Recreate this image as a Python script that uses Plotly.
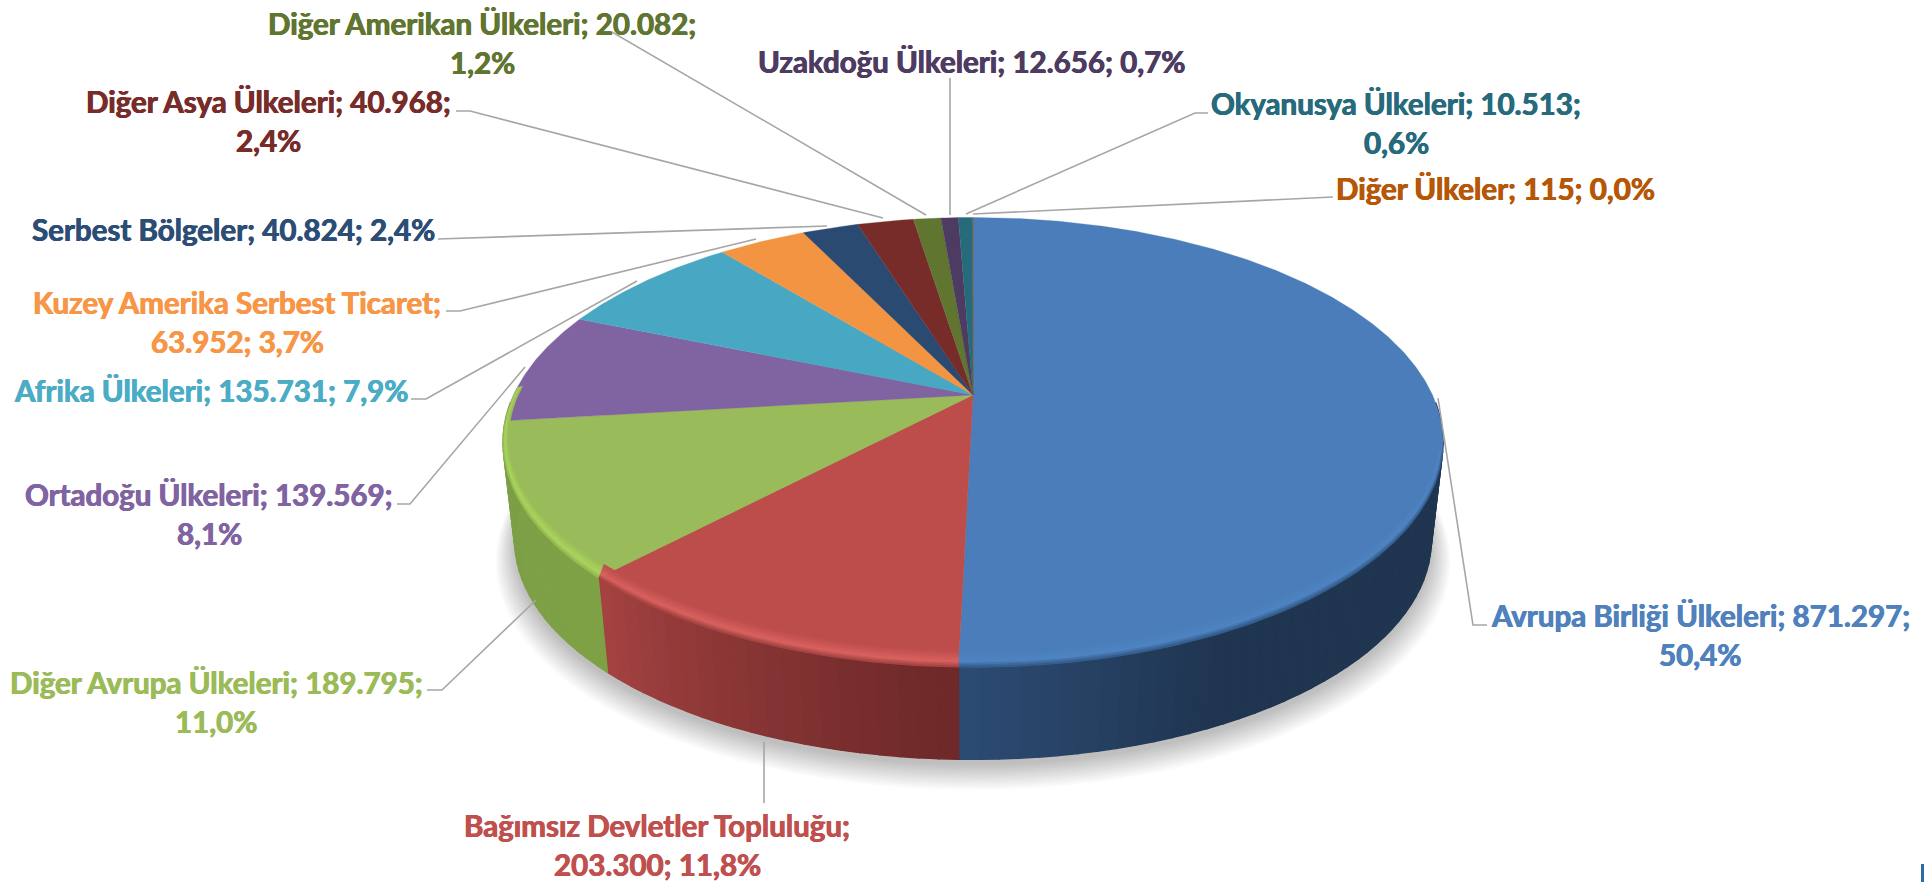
import numpy as np
import plotly.graph_objects as go

# ---- data ----
categories = ["Avrupa Birliği Ülkeleri", "Bağımsız Devletler Topluluğu", "Diğer Avrupa Ülkeleri",
              "Ortadoğu Ülkeleri", "Afrika Ülkeleri", "Kuzey Amerika Serbest Ticaret",
              "Serbest Bölgeler", "Diğer Asya Ülkeleri", "Diğer Amerikan Ülkeleri",
              "Uzakdoğu Ülkeleri", "Okyanusya Ülkeleri", "Diğer Ülkeler"]
values = [871297, 203300, 189795, 139569, 135731, 63952, 40824, 40968, 20082, 12656, 10513, 115]
colors = ["#4A7DB9", "#BC4D4B", "#9ABB59", "#8064A2", "#48A8C4", "#F39442",
          "#2A4A72", "#772C2A", "#5F7530", "#4D3B62", "#276A7C", "#B65708"]
label_colors = ["#4F81BD", "#C0504D", "#9BBB59", "#8064A2", "#4BACC6", "#F79646",
                "#2C4D75", "#772C2A", "#5F7530", "#4D3B62", "#276A7C", "#B65708"]

# ---- label layout: text break, centre x, first-line centre y ----
label_breaks = [" %|", "n|", " %|", " %|", "", "b", "", " %|", " %|", "", " %|", ""]
label_pos = [(1700, 615), (657, 825), (216, 682), (209, 494), (211, 390), (237, 302),
             (233, 229), (268, 101), (482, 23), (971, 61), (1396, 103), (1495, 188)]
leaders = [
    [(1438, 398), (1473, 625), (1487, 625)],
    [(764, 742), (764, 803)],
    [(536, 600), (442, 690), (427, 690)],
    [(525, 367), (410, 504), (397, 504)],
    [(637, 281), (426, 399), (411, 399)],
    [(756, 239), (460, 311), (446, 311)],
    [(827, 226), (445, 239), (438, 239)],
    [(883, 218), (470, 111), (456, 111)],
    [(926, 215), (612, 32), (597, 32)],
    [(950, 215), (950, 78)],
    [(966, 214), (1195, 113), (1208, 113)],
    [(973, 214), (1318, 197), (1333, 197)],
]

# ---- pie projection ----
CX, CY = 973.0, 395.0
K, B, A = 0.2106, 214.9, 459.5
S_BOTTOM, DY_BOTTOM = 0.975, 99.0
total = sum(values)
edges = np.concatenate([[0.0], np.cumsum(values) / total * 2 * np.pi])


def top_xy(theta, r=1.0):
    u, v = r * np.sin(theta), -r * np.cos(theta)
    d = 1 - K * v
    return CX + A * u / d, CY + B * v / d


def bottom_xy(theta):
    x, y = top_xy(theta)
    return CX + S_BOTTOM * (x - CX), CY + DY_BOTTOM + S_BOTTOM * (y - CY)


def bevel_xy(theta, f):
    x, y = top_xy(theta, 1 - 0.012 * f)
    return x, y - 13 * f * np.clip(-np.cos(theta) + 0.15, 0, 1)


def poly(x, y, color, opacity=1.0, lw=0.6):
    return go.Scatter(x=x, y=y, mode="lines", fill="toself", fillcolor=color, opacity=opacity,
                      line=dict(color=color, width=lw), hoverinfo="skip", showlegend=False)


def hex2rgb(h):
    return np.array([int(h[i:i + 2], 16) for i in (1, 3, 5)], float)


def mix(c1, c2, t):
    c = hex2rgb(c1) * (1 - t) + hex2rgb(c2) * t
    return "#%02x%02x%02x" % tuple(int(round(v)) for v in c)


fig = go.Figure()

# soft shadow
full = np.linspace(0, 2 * np.pi, 241)
for i in range(16):
    s = 1.0 + 0.0028 * i
    bx, by = bottom_xy(full)
    fig.add_trace(poly(CX + s * (bx - CX), CY + DY_BOTTOM + 6 + s * (by - CY - DY_BOTTOM) + i * 0.9,
                       "#000000", opacity=0.016, lw=0))

# side walls, front half only
side_ramps = {0: ("#1F3550", "#2C4C74"), 1: ("#A54342", "#6E2929"), 2: ("#7FA146", "#7C9E45")}
ranges = {0: (np.radians(92), edges[1]), 1: (edges[1], edges[2]), 2: (edges[2], np.radians(268))}
for i, (t0, t1) in ranges.items():
    n = max(6, int(np.degrees(t1 - t0) / 2))
    grid = np.linspace(t0, t1, n + 1)
    for j in range(n):
        sub = np.linspace(grid[j], grid[j + 1], 4)
        tx, ty = top_xy(sub)
        bx, by = bottom_xy(sub[::-1])
        frac = (j + 0.5) / n
        if i == 0:
            c = mix(*side_ramps[0], max(0.0, (frac - 0.7) / 0.3))
        elif i == 1:
            c = mix(side_ramps[1][1], side_ramps[1][0], frac ** 1.2)
        else:
            c = mix(*side_ramps[2], frac)
        fig.add_trace(poly(np.r_[tx, bx, tx[0]], np.r_[ty, by, ty[0]], c, lw=1.4))

# top faces
for i, col in enumerate(colors):
    arc = np.linspace(edges[i], edges[i + 1], max(3, int(np.degrees(edges[i + 1] - edges[i]) * 2)))
    ax, ay = top_xy(arc)
    fig.add_trace(poly(np.r_[CX, ax, CX], np.r_[CY, ay, CY], col, lw=0.3))

# bevel highlight along the front rim: smooth band from the edge into the top face
bevel = {0: ("#4F84C2", "#2F5480"), 1: ("#D9625F", "#9C3F3E"), 2: ("#A9D65E", "#8FB050")}
STEPS = 10
for i, (hi, lo) in bevel.items():
    t0 = max(edges[i], np.radians(105)) if i == 0 else edges[i]
    t1 = np.radians(272) if i == 2 else edges[i + 1]
    arc = np.linspace(t0, t1, 80)
    for s in range(STEPS):
        f0, f1 = s / STEPS, (s + 1) / STEPS
        fm = (f0 + f1) / 2
        c = mix(lo, hi, fm / 0.35) if fm < 0.35 else mix(hi, colors[i], (fm - 0.35) / 0.65)
        ox, oy = bevel_xy(arc, f0)
        ix, iy = bevel_xy(arc[::-1], f1)
        fig.add_trace(poly(np.r_[ox, ix, ox[0]], np.r_[oy, iy, oy[0]], c, lw=0.5))

# leader lines
for pts in leaders:
    fig.add_trace(go.Scatter(x=[p[0] for p in pts], y=[p[1] for p in pts], mode="lines",
                             line=dict(color="#A6A6A6", width=1.6), hoverinfo="skip", showlegend=False))

# labels
LINE = 39
for i, (name, val) in enumerate(zip(categories, values)):
    vtxt = f"{val:,}".replace(",", ".")
    ptxt = f"{val / total * 100:.1f}%".replace(".", ",")
    brk = label_breaks[i]
    if brk == " %|":
        lines = [f"{name}; {vtxt};", ptxt]
    elif brk == "n|" or brk == "b":
        lines = [f"{name};", f"{vtxt}; {ptxt}"]
    else:
        lines = [f"{name}; {vtxt}; {ptxt}"]
    x0, y0 = label_pos[i]
    for k, line in enumerate(lines):
        fig.add_annotation(x=x0, y=y0 + k * LINE, text=f"<b>{line}</b>", showarrow=False,
                           xanchor="center", yanchor="middle",
                           font=dict(family="Lato, sans-serif", size=29.5, color=label_colors[i],
                                     shadow=f"0.45px 0 0 {label_colors[i]}, -0.45px 0 0 {label_colors[i]}"))

fig.update_layout(
    width=1924, height=882, margin=dict(l=0, r=0, t=0, b=0),
    paper_bgcolor="white", plot_bgcolor="white", showlegend=False,
    xaxis=dict(range=[0, 1924], visible=False, fixedrange=True),
    yaxis=dict(range=[882, 0], visible=False, fixedrange=True),
    shapes=[dict(type="rect", xref="x", yref="y", x0=1921, x1=1924, y0=864, y1=882,
                 fillcolor="#2C6CA0", line_width=0)],
)
fig.write_html("out.html", post_script="document.body.style.margin='0';document.body.style.overflow='hidden';",
               config=dict(displayModeBar=False))
